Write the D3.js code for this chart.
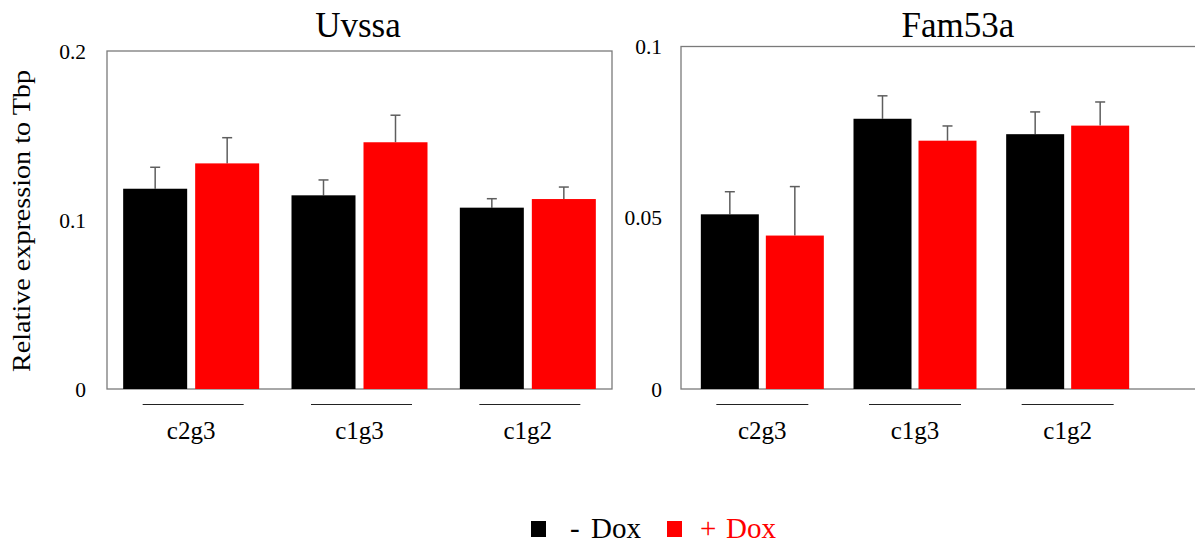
<!DOCTYPE html>
<html>
<head>
<meta charset="utf-8">
<script src="https://cdn.jsdelivr.net/npm/d3@7"></script>
<style>
  html, body { margin: 0; padding: 0; background: #fff; }
  svg { display: block; }
</style>
</head>
<body>
<svg id="chart" width="1195" height="545" font-family="'Liberation Serif', Tinos, 'Times New Roman', 'DejaVu Serif', serif"></svg>
<script>
// ---- data ----
const categories = ["c2g3", "c1g3", "c1g2"];
const seriesSigns = ["-", "+"];
const seriesLabel = "Dox";
const uvssaMinusDox = [0.1185, 0.1146, 0.1073];
const uvssaMinusDoxErr = [0.0127, 0.0091, 0.0053];
const uvssaPlusDox = [0.1335, 0.1460, 0.1124];
const uvssaPlusDoxErr = [0.0152, 0.0160, 0.0071];
const fam53aMinusDox = [0.0510, 0.0789, 0.0744];
const fam53aMinusDoxErr = [0.0066, 0.0067, 0.0065];
const fam53aPlusDox = [0.0448, 0.0725, 0.0769];
const fam53aPlusDoxErr = [0.0143, 0.0043, 0.0069];
const uvssaTicks = [0, 0.1, 0.2];
const uvssaTickLabels = ["0", "0.1", "0.2"];
const fam53aTicks = [0, 0.05, 0.1];
const fam53aTickLabels = ["0", "0.05", "0.1"];

const colors = ["#000000", "#ff0000"];
const FONT = "'Liberation Serif', Tinos, 'Times New Roman', 'DejaVu Serif', serif";
const svg = d3.select("#chart");

function panel(cfg) {
  const g = svg.append("g").attr("font-family", FONT);
  const y = d3.scaleLinear().domain(cfg.domain).range([cfg.bottom, cfg.top]);
  const x = d3.scaleBand().domain(categories).range(cfg.bandRange).padding(0);

  g.append("rect")
    .attr("x", cfg.frameLeft).attr("y", cfg.top)
    .attr("width", cfg.frameRight - cfg.frameLeft).attr("height", cfg.bottom - cfg.top)
    .attr("fill", "none").attr("stroke", "#7a7a7a").attr("stroke-width", 1.3);

  g.selectAll("text.ytick").data(cfg.ticks).enter().append("text")
    .attr("class", "ytick")
    .attr("x", cfg.tickX).attr("y", d => y(d))
    .attr("dy", "0.35em")
    .attr("text-anchor", "end")
    .attr("font-size", 21.5).attr("fill", "#000")
    .text((d, i) => cfg.tickLabels[i]);

  const series = [
    { vals: cfg.minus, errs: cfg.minusErr, color: colors[0], off: -cfg.gap / 2 - cfg.barW },
    { vals: cfg.plus, errs: cfg.plusErr, color: colors[1], off: cfg.gap / 2 }
  ];
  const cx = c => x(c) + x.bandwidth() / 2;

  series.forEach(s => {
    categories.forEach((c, i) => {
      const xc = cx(c) + s.off + cfg.barW / 2;
      const yt = y(s.vals[i] + s.errs[i]);
      g.append("line").attr("x1", xc).attr("x2", xc)
        .attr("y1", y(s.vals[i])).attr("y2", yt)
        .attr("stroke", "#5e5e5e").attr("stroke-width", 1.5);
      g.append("line").attr("x1", xc - 5).attr("x2", xc + 5)
        .attr("y1", yt).attr("y2", yt)
        .attr("stroke", "#5e5e5e").attr("stroke-width", 1.5);
    });
    g.selectAll(null).data(categories).enter().append("rect")
      .attr("x", c => cx(c) + s.off)
      .attr("y", (c, i) => y(s.vals[i]))
      .attr("width", cfg.barW)
      .attr("height", (c, i) => y(0) - y(s.vals[i]))
      .attr("fill", s.color);
  });

  categories.forEach(c => {
    const xc = cx(c) + cfg.lineShift;
    g.append("line").attr("x1", xc - cfg.lineW / 2).attr("x2", xc + cfg.lineW / 2)
      .attr("y1", 404.5).attr("y2", 404.5)
      .attr("stroke", "#222").attr("stroke-width", 1);
    g.append("text").attr("x", cx(c)).attr("y", 439)
      .attr("text-anchor", "middle").attr("font-size", 25).attr("fill", "#000")
      .text(c);
  });

  g.append("text").attr("x", cfg.titleX).attr("y", 37)
    .attr("text-anchor", "middle").attr("font-size", 35).attr("fill", "#000")
    .text(cfg.title);
}

panel({
  title: "Uvssa", titleX: 358,
  domain: [0, 0.2], top: 51, bottom: 389,
  frameLeft: 107, frameRight: 612,
  bandRange: [107, 612],
  barW: 64, gap: 8,
  tickX: 86, ticks: uvssaTicks, tickLabels: uvssaTickLabels,
  minus: uvssaMinusDox, minusErr: uvssaMinusDoxErr,
  plus: uvssaPlusDox, plusErr: uvssaPlusDoxErr,
  lineW: 101, lineShift: 2
});

panel({
  title: "Fam53a", titleX: 958,
  domain: [0, 0.1], top: 46.5, bottom: 389,
  frameLeft: 681, frameRight: 1240,
  bandRange: [686, 1144],
  barW: 58, gap: 7,
  tickX: 662, ticks: fam53aTicks, tickLabels: fam53aTickLabels,
  minus: fam53aMinusDox, minusErr: fam53aMinusDoxErr,
  plus: fam53aPlusDox, plusErr: fam53aPlusDoxErr,
  lineW: 92, lineShift: 0
});

svg.append("text")
  .attr("font-family", FONT)
  .attr("transform", "translate(30,221) rotate(-90)")
  .attr("text-anchor", "middle")
  .attr("font-size", 25)
  .attr("textLength", 302).attr("lengthAdjust", "spacingAndGlyphs")
  .attr("fill", "#000")
  .text("Relative expression to Tbp");

const legend = svg.append("g").attr("font-family", FONT);
const legendItems = [
  { sign: seriesSigns[0], color: colors[0], sx: 531, signX: 570, wordX: 591 },
  { sign: seriesSigns[1], color: colors[1], sx: 667, signX: 700, wordX: 726 }
];
legendItems.forEach(d => {
  legend.append("rect").attr("x", d.sx).attr("y", 521).attr("width", 15).attr("height", 16)
    .attr("fill", d.color);
  const t = legend.append("text").attr("y", 538)
    .attr("font-size", 29).attr("fill", d.color);
  t.append("tspan").attr("x", d.signX).text(d.sign);
  t.append("tspan").attr("x", d.wordX).text(seriesLabel);
});
</script>
</body>
</html>
